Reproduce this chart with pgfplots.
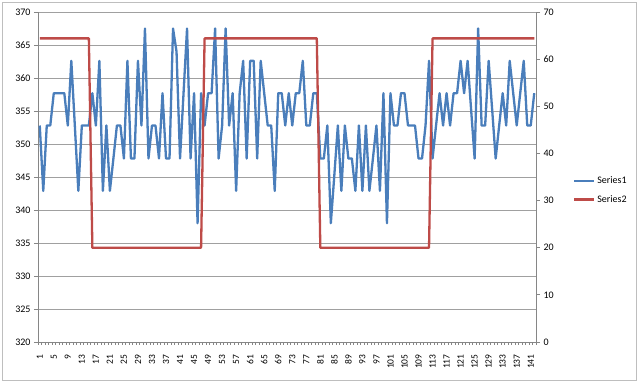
\documentclass[border=0pt]{standalone}
\usepackage{pgfplots}
\pgfplotsset{compat=1.18}
\usepackage{fontspec}
\setmainfont{Carlito}
\definecolor{sone}{RGB}{74,126,187}
\definecolor{stwo}{RGB}{190,75,72}
\definecolor{axgray}{RGB}{134,134,134}
\definecolor{gridgray}{RGB}{160,160,160}
\definecolor{bordergray}{RGB}{190,190,190}
\pgfplotstableread{
x y
1 352.8
2 342.9
3 352.8
4 352.8
5 357.7
6 357.7
7 357.7
8 357.7
9 352.8
10 362.6
11 352.8
12 342.9
13 352.8
14 352.8
15 352.8
16 357.7
17 352.8
18 362.6
19 342.9
20 352.8
21 342.9
22 347.8
23 352.8
24 352.8
25 347.8
26 362.6
27 347.8
28 347.8
29 362.6
30 352.8
31 367.5
32 347.8
33 352.8
34 352.8
35 347.8
36 357.7
37 347.8
38 347.8
39 367.5
40 364.0
41 347.8
42 357.7
43 367.5
44 347.8
45 357.7
46 338.0
47 357.7
48 352.8
49 357.7
50 357.7
51 367.5
52 347.8
53 352.8
54 367.5
55 352.8
56 357.7
57 342.9
58 357.7
59 362.6
60 347.8
61 362.6
62 362.6
63 347.8
64 362.6
65 357.7
66 352.8
67 352.8
68 342.9
69 357.7
70 357.7
71 352.8
72 357.7
73 352.8
74 357.7
75 357.7
76 362.6
77 352.8
78 352.8
79 357.7
80 357.7
81 347.8
82 347.8
83 352.8
84 338.0
85 345.3
86 352.8
87 342.9
88 352.8
89 347.8
90 347.8
91 342.9
92 352.8
93 342.9
94 352.8
95 342.9
96 347.8
97 352.8
98 342.9
99 357.7
100 338.0
101 357.7
102 352.8
103 352.8
104 357.7
105 357.7
106 352.8
107 352.8
108 352.8
109 347.8
110 347.8
111 352.8
112 362.6
113 347.8
114 352.8
115 357.7
116 352.8
117 357.7
118 352.8
119 357.7
120 357.7
121 362.6
122 357.7
123 362.6
124 355.2
125 347.8
126 367.5
127 352.8
128 352.8
129 362.6
130 355.2
131 347.8
132 352.8
133 357.7
134 352.8
135 362.6
136 357.7
137 352.8
138 357.7
139 362.6
140 352.8
141 352.8
142 357.7
}\seriesone
\pgfplotstableread{
x y
1 64.4
15 64.4
16 20
47 20
48 64.4
80 64.4
81 20
112 20
113 64.4
142 64.4
}\seriestwo
\begin{document}
\begin{tikzpicture}[x=1pt,y=1pt]
\useasboundingbox (0,0) rectangle (640,382);
\draw[bordergray, line width=0.8pt] (2,2) rectangle (636,380);
\pgfplotsset{
  common/.style={
    at={(38pt,40pt)}, anchor=south west,
    width=498pt, height=330pt, scale only axis,
    xmin=0.5, xmax=142.5,
    /pgf/number format/assume math mode=true,
    tick label style={font=\fontsize{10}{12}\selectfont, text=black},
    axis line style={axgray, line width=0.8pt},
    tick style={axgray, line width=0.8pt},
    tick align=outside,
  }
}
\begin{axis}[common,
  ymin=320, ymax=370,
  axis y line*=left, axis x line*=bottom,
  ytick={320,325,...,370},
  ymajorgrids, major grid style={gridgray, line width=0.8pt},
  major tick length=4pt,
  xtick={1,5,...,141},
  major x tick style={draw=none},
  minor xtick={0.5,1.5,...,142.5},
  minor tick length=3pt,
  xticklabel style={yshift=-5pt, rotate=90, anchor=east, font=\fontsize{9.5}{11}\selectfont},
]
\addplot[sone, line width=2.3pt, line join=round] table[x=x,y=y]{\seriesone};
\end{axis}
\begin{axis}[common,
  ymin=0, ymax=70,
  axis y line*=right, axis x line=none,
  ytick={0,10,...,70},
  major tick length=4pt,
  legend style={at={(1.074,0.46)}, anchor=west, draw=none, fill=none,
    inner sep=0pt, font=\fontsize{10}{12}\selectfont, row sep=6pt},
  legend cell align=left,
  legend image code/.code={\draw[#1] (0pt,0pt) -- (20pt,0pt);},
]
\addlegendimage{sone, line width=1.8pt}
\addlegendentry{Series1}
\addplot[stwo, line width=2.3pt, line join=round] table[x=x,y=y]{\seriestwo};
\addlegendentry{Series2}
\end{axis}
\end{tikzpicture}
\end{document}
